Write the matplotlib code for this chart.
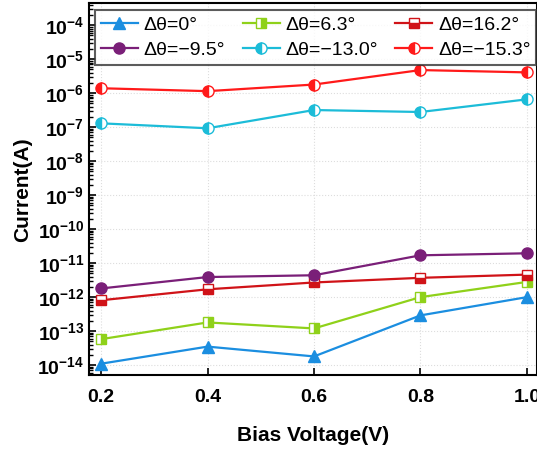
import numpy as np
import matplotlib
matplotlib.use("Agg")
import matplotlib.pyplot as plt
from matplotlib.ticker import LogLocator, FixedLocator, NullFormatter

plt.rcParams['font.family'] = ['Liberation Sans', 'DejaVu Sans']

voltage = [0.2, 0.4, 0.6, 0.8, 1.0]

# currents (A)
i_0 = [1.1e-14, 3.5e-14, 1.8e-14, 2.9e-13, 1.0e-12]
i_6p3 = [5.8e-14, 1.8e-13, 1.2e-13, 1.0e-12, 2.8e-12]
i_16p2 = [8.1e-13, 1.7e-12, 2.7e-12, 3.7e-12, 4.6e-12]
i_m9p5 = [1.8e-12, 3.9e-12, 4.4e-12, 1.7e-11, 1.95e-11]
i_m13 = [1.3e-7, 9.3e-8, 3.2e-7, 2.8e-7, 6.6e-7]
i_m15p3 = [1.4e-6, 1.15e-6, 1.8e-6, 4.8e-6, 4.1e-6]

labels = ['Δθ=0°', 'Δθ=6.3°', 'Δθ=16.2°',
          'Δθ=−9.5°', 'Δθ=−13.0°', 'Δθ=−15.3°']

fig = plt.figure(figsize=(5.37, 4.5), dpi=100)
ax = fig.add_axes([0.166, 0.166, 0.834, 0.827])

ax.grid(True, which='major', color='#dddddd', linestyle=':', linewidth=0.8)

h0, = ax.plot(voltage, i_0, '-^', color='#1b8ee0', ms=8, lw=1.6)
h1, = ax.plot(voltage, i_6p3, '-s', color='#8fd11a', ms=7, lw=1.6,
              fillstyle='right', markerfacecoloralt='white')
h2, = ax.plot(voltage, i_16p2, '-s', color='#d01318', ms=7, lw=1.6,
              fillstyle='bottom', markerfacecoloralt='white')
h3, = ax.plot(voltage, i_m9p5, '-o', color='#7a1f78', ms=8, lw=1.6)
h4, = ax.plot(voltage, i_m13, '-o', color='#1cbcd8', ms=8, lw=1.6,
              fillstyle='left', markerfacecoloralt='white')
h5, = ax.plot(voltage, i_m15p3, '-o', color='#ff1a1a', ms=8, lw=1.6,
              fillstyle='left', markerfacecoloralt='white')

ax.set_yscale('log')
ax.set_ylim(10**-14.3, 10**-3.35)
ax.set_xlim(0.1775, 1.019)
ax.set_xticks(voltage)
ax.set_xticklabels(['0.2', '0.4', '0.6', '0.8', '1.0'])
ax.yaxis.set_major_locator(FixedLocator([10.0**k for k in range(-14, -3)]))
ax.yaxis.set_minor_locator(LogLocator(base=10, subs=np.arange(2, 10), numticks=50))
ax.yaxis.set_minor_formatter(NullFormatter())

ax.tick_params(which='major', direction='in', length=5, width=1.2,
               labelsize=14)
ax.tick_params(axis='x', pad=10)
ax.tick_params(which='minor', direction='in', length=3, width=1.0)
for lab in ax.get_xticklabels() + ax.get_yticklabels():
    lab.set_fontweight('bold')
for s in ax.spines.values():
    s.set_linewidth(1.5)

ax.set_xlabel('Bias Voltage(V)', fontsize=15, fontweight='bold', labelpad=14)
ax.set_ylabel('Current(A)', fontsize=15, fontweight='bold', labelpad=4)

handles = [h0, h3, h1, h4, h2, h5]
leg_labels = [labels[0], labels[3], labels[1], labels[4], labels[2], labels[5]]
leg = ax.legend(handles, leg_labels, ncol=3, loc='upper left',
                bbox_to_anchor=(0.013, 0.981), fontsize=14, frameon=True,
                fancybox=False, edgecolor='#333333', handlelength=1.9,
                columnspacing=0.9, handletextpad=0.3, borderpad=0.3,
                labelspacing=0.4, borderaxespad=0)
leg.get_frame().set_linewidth(1.5)

fig.savefig('out.png', dpi=100)
